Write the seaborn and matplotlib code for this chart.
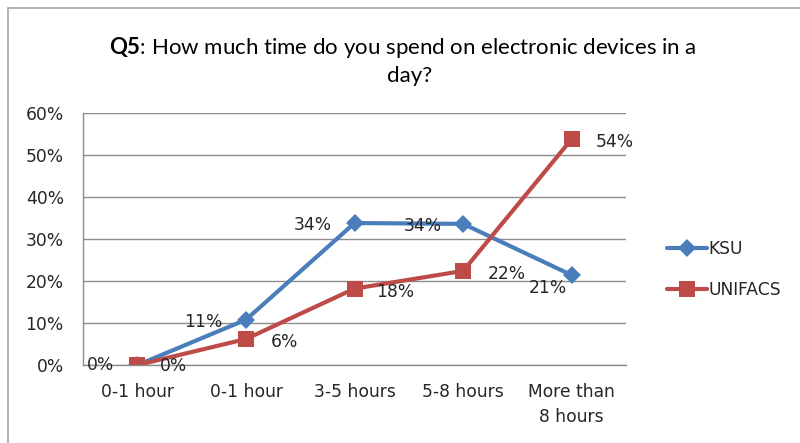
import matplotlib
matplotlib.use("Agg")
import matplotlib.pyplot as plt
from matplotlib.lines import Line2D
from matplotlib.ticker import PercentFormatter, FixedLocator
import numpy as np
import pandas as pd
import seaborn as sns

categories = ["0-1 hour", "0-1 hour", "3-5 hours", "5-8 hours", "More than\n8 hours"]
ksu = [0.0, 0.108, 0.338, 0.336, 0.214]
unifacs = [0.0, 0.062, 0.182, 0.224, 0.538]
series_names = ["KSU", "UNIFACS"]
y_ticks = [0.0, 0.1, 0.2, 0.3, 0.4, 0.5, 0.6]

colors = {"KSU": "#4A7EBB", "UNIFACS": "#BE4B48"}
markers = {"KSU": "D", "UNIFACS": "s"}

pos = np.arange(len(categories))
df = pd.DataFrame({
    "pos": np.concatenate([pos, pos]),
    "value": ksu + unifacs,
    "school": [series_names[0]] * len(ksu) + [series_names[1]] * len(unifacs),
})

sns.set_theme(style="white")
plt.rcParams["font.family"] = ["DejaVu Sans"]
plt.rcParams["mathtext.fontset"] = "custom"
plt.rcParams["mathtext.rm"] = "Lato"
plt.rcParams["mathtext.bf"] = "Lato:bold"

fig = plt.figure(figsize=(8.0, 4.43), dpi=100)
ax = fig.add_axes([0.104, 0.176, 0.6785, 0.569])

text_color = "#262626"
grid_color = "#8C8C8C"
fs = 12.3

for name in series_names:
    sub = df[df["school"] == name]
    sns.lineplot(data=sub, x="pos", y="value", ax=ax, color=colors[name],
                 marker=markers[name], markersize=9 if name == "KSU" else 11,
                 markeredgewidth=0, linewidth=3, label=name, legend=False,
                 errorbar=None)

ax.set_xlim(-0.5, len(categories) - 0.5)
ax.set_ylim(0, 0.6)
ax.yaxis.set_major_locator(FixedLocator(y_ticks))
ax.yaxis.set_major_formatter(PercentFormatter(1.0, decimals=0))
ax.set_xticks(pos)
ax.set_xticklabels(categories, linespacing=1.5)
ax.set_xticks(np.arange(-0.5, len(categories)), minor=True)
ax.tick_params(axis="x", which="major", length=0, pad=13, labelsize=fs, labelcolor=text_color)
ax.tick_params(axis="x", which="minor", length=5, width=1, color=grid_color, direction="out")
ax.tick_params(axis="y", which="major", length=5, width=1, color=grid_color, direction="out",
               pad=9, labelsize=fs, labelcolor=text_color)
ax.set_xlabel("")
ax.set_ylabel("")
ax.grid(axis="y", color=grid_color, linewidth=1)
ax.set_axisbelow(True)
for side in ["top", "right"]:
    ax.spines[side].set_visible(False)
for side in ["left", "bottom"]:
    ax.spines[side].set_color(grid_color)
    ax.spines[side].set_linewidth(1)

# Data labels: KSU to the left of its points, UNIFACS to the right
ksu_offsets = [(-37, 0), (-43, -2), (-42, -2), (-40, -2), (-24, -13)]
uni_offsets = [(36, -1), (38, -3), (41, -3), (44, -3), (43, -3)]
for i, v in enumerate(ksu):
    ax.annotate(f"{v:.0%}", (pos[i], v), xytext=ksu_offsets[i], textcoords="offset pixels",
                ha="center", va="center", fontsize=fs, color=text_color)
for i, v in enumerate(unifacs):
    ax.annotate(f"{v:.0%}", (pos[i], v), xytext=uni_offsets[i], textcoords="offset pixels",
                ha="center", va="center", fontsize=fs, color=text_color)

handles = [Line2D([0], [0], color=colors[n], marker=markers[n], linewidth=3,
                  markersize=9 if n == "KSU" else 11, markeredgewidth=0) for n in series_names]
fig.legend(handles, series_names, loc="center left", bbox_to_anchor=(0.815, 0.392),
           frameon=False, fontsize=fs, handlelength=2.3, handletextpad=0.1,
           labelspacing=1.35, labelcolor=text_color)

fig.text(0.503, 0.892, r"$\bf{Q5}$" + ": How much time do you spend on electronic devices in a",
         ha="center", va="center", fontsize=16, color="#000000", family="Lato")
fig.text(0.512, 0.829, "day?", ha="center", va="center", fontsize=16, color="#000000",
         family="Lato")

# chart frame
fig.add_artist(Line2D([0.0095, 0.0095], [0, 0.982], color="#A6A6A6", linewidth=1.2,
                      transform=fig.transFigure))
fig.add_artist(Line2D([0.0095, 1.0], [0.982, 0.982], color="#A6A6A6", linewidth=1.2,
                      transform=fig.transFigure))

fig.savefig("out.png", dpi=100, facecolor="white")
